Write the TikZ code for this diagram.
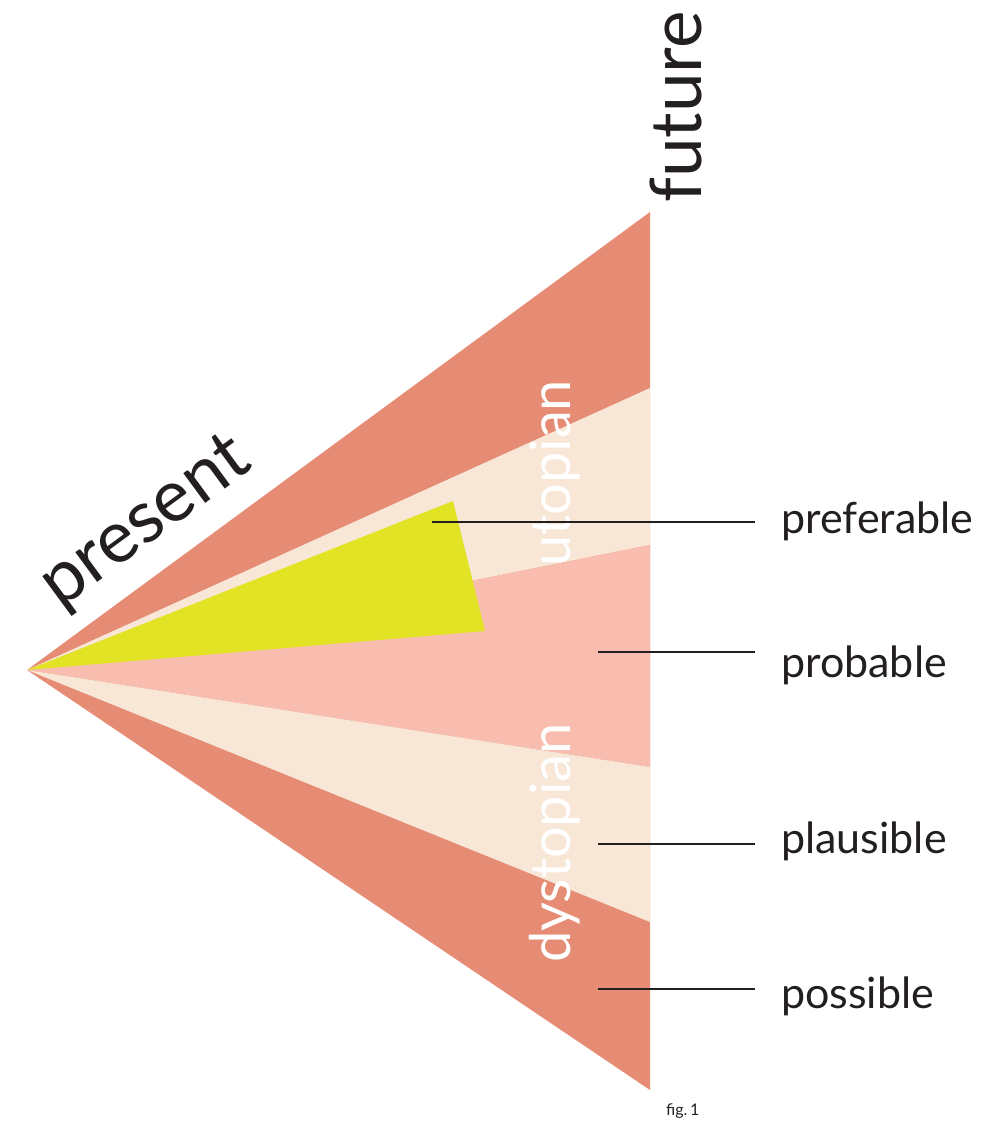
\documentclass[tikz,border=0pt]{standalone}
\usepackage{fontspec}
\setmainfont{Lato}
\usetikzlibrary{calc}
\definecolor{coral}{HTML}{E68B74}
\definecolor{cream}{HTML}{F8E7D6}
\definecolor{blush}{HTML}{F9BDAF}
\definecolor{lime}{HTML}{E2E325}
\definecolor{ink}{HTML}{231F20}
\begin{document}
\begin{tikzpicture}[x=1pt, y=-1pt, lbl/.style={anchor=base west, inner xsep=26pt, inner ysep=0pt, text=ink, font=\fontsize{43}{50}\selectfont}, vert/.style={rotate=90, anchor=base west, inner sep=0pt, text=white, font=\fontsize{56}{60}\selectfont}, leader/.style={draw=ink, line width=2pt}]
\useasboundingbox (0,0) rectangle (986,1123);
% cone of futures
\coordinate (apex) at (27,670);
\fill[coral] (apex) -- (650,212) -- (650,1090) -- cycle;
\fill[cream] (apex) -- (650,388) -- (650,545) -- cycle;
\fill[blush] (apex) -- (650,545) -- (650,767) -- cycle;
\fill[cream] (apex) -- (650,767) -- (650,922) -- cycle;
\fill[lime] (apex) -- (453,501) -- (485,631) -- cycle;
% band names
\node[vert] (utopian) at (570,567) {utopian};
\node[vert] (dystopian) at (570,963) {dystopian};
\node[anchor=base west, inner sep=0pt, rotate=90, text=ink, font=\fontsize{71}{80}\selectfont] (future) at (701,203) {future};
\node[anchor=base west, inner sep=0pt, rotate=36.3, text=ink, font=\fontsize{73}{80}\selectfont] (present) at (60,610) {present};
% labels
\node[lbl] (preferable) at (755,533) {preferable};
\node[lbl] (probable) at (755,677) {probable};
\node[lbl] (plausible) at (755,853) {plausible};
\node[lbl] (possible) at (755,1008) {possible};
\coordinate (preferable-in) at (432,522);
\coordinate (probable-in) at (598,652);
\coordinate (plausible-in) at (598,844);
\coordinate (possible-in) at (598,989);
\foreach \a in {preferable,probable,plausible,possible} \draw[leader] (\a-in) -- (\a-in -| \a.west);
\node[anchor=base west, inner sep=0pt, text=ink, font=\fontsize{16}{18}\selectfont] (fig) at (666,1115) {fig.\,1};
\end{tikzpicture}
\end{document}
